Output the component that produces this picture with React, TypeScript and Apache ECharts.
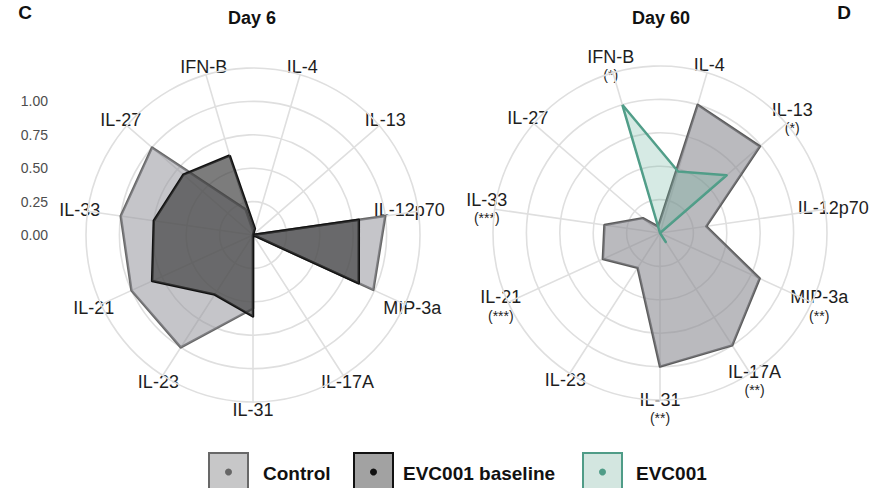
import React, { useEffect, useRef } from 'react';
import * as echarts from 'echarts';

// ---- data (clockwise from the top, as printed) ----
const categories = ['IFN-B', 'IL-4', 'IL-13', 'IL-12p70', 'MIP-3a', 'IL-17A', 'IL-31', 'IL-23', 'IL-21', 'IL-33', 'IL-27'];
const day60Stars = ['(*)', '', '(*)', '', '(**)', '(**)', '(**)', '', '(***)', '(***)', ''];
const radialTicks = [0, 0.25, 0.5, 0.75, 1.0];

const day6Control = [0.2, 0.02, 0.0, 1.0, 0.99, 0.0, 0.55, 1.0, 1.0, 1.0, 1.0];
const day6Baseline = [0.62, 0.05, 0.0, 0.8, 0.87, 0.0, 0.61, 0.53, 0.83, 0.75, 0.69];
const day60Control = [0.05, 1.0, 0.99, 0.35, 0.82, 1.0, 1.0, 0.31, 0.47, 0.42, 0.17];
const day60Evc = [1.0, 0.48, 0.66, 0.0, 0.0, 0.08, 0.0, 0.0, 0.0, 0.0, 0.0];

const seriesNames = ['Control', 'EVC001 baseline', 'EVC001'];
const titles = ['Day 6', 'Day 60'];
const panelLetters = ['C', 'D'];

// ---- layout / style ----
const W = 869;
const H = 488;
const FONT = 'Liberation Sans, Arial, Helvetica, sans-serif';
const AXIS_MAX = 1.25;
const R = 167;
const CENTERS: [number, number][] = [[253, 235], [660, 233]];
const LABEL_R = 175;
const N = categories.length;
const STEP = 360 / N;
const FIRST = -STEP / 2; // screen angle (clockwise from top) of the first category
const GRID_C = '#dfdfdf';
// small label nudges (left panel keeps IL-12p70 inside its own area)
const NUDGE_LEFT: [number, number][] = categories.map((c) => (c === 'IL-12p70' ? [-17, 0] : [0, 0]));
const NUDGE_RIGHT: [number, number][] = categories.map(() => [0, 0]);

// ECharts places indicators counter-clockwise starting at startAngle
const ccw = [0, ...Array.from({ length: N - 1 }, (_, i) => N - 1 - i)];
const ord = (arr: number[]) => ccw.map((i) => arr[i]);

const colors = {
  control: { line: '#686868', fill: 'rgba(150,150,156,0.55)', key: '#c7c7c8', dot: '#666666' },
  baseline: { line: '#111111', fill: 'rgba(62,62,62,0.68)', key: '#a2a2a2', dot: '#111111' },
  evc: { line: '#4f9c87', fill: 'rgba(95,175,152,0.26)', key: '#d3e6e0', dot: '#4f9c87' },
};

function radarCfg(center: [number, number]) {
  return {
    center,
    radius: R,
    startAngle: 90 - FIRST,
    splitNumber: 5,
    shape: 'circle',
    indicator: ccw.map((i) => ({ name: categories[i], min: 0, max: AXIS_MAX })),
    axisName: { show: false },
    splitLine: { lineStyle: { color: GRID_C, width: 1.6 } },
    splitArea: { show: false },
    axisLine: { lineStyle: { color: GRID_C, width: 1.6 } },
    axisTick: { show: false },
    axisLabel: { show: false },
  };
}

function labelGraphics(center: [number, number], stars: string[] | null, nudge: [number, number][]) {
  return categories.map((name, i) => {
    const th = ((FIRST + i * STEP) * Math.PI) / 180;
    const x = center[0] + LABEL_R * Math.sin(th) + nudge[i][0];
    const y = center[1] - LABEL_R * Math.cos(th) + nudge[i][1];
    const s = stars ? stars[i] : '';
    const text = s ? `{a|${name}}\n{b|${s}}` : `{a|${name}}`;
    return {
      type: 'text',
      x,
      y,
      silent: true,
      style: {
        text,
        align: 'center',
        verticalAlign: 'middle',
        fill: '#1e1e1e',
        fontFamily: FONT,
        rich: {
          a: { fontSize: 18, fontFamily: FONT, fill: '#1e1e1e', lineHeight: 20, align: 'center' },
          b: { fontSize: 14, fontFamily: FONT, fill: '#1e1e1e', lineHeight: 17, align: 'center' },
        },
      },
    };
  });
}

function legendGraphics() {
  const keys = [
    { x: 209, tx: 263, c: colors.control },
    { x: 354, tx: 403, c: colors.baseline },
    { x: 583, tx: 636, c: colors.evc },
  ];
  const out: any[] = [];
  keys.forEach((k, i) => {
    out.push({
      type: 'rect',
      shape: { x: k.x, y: 453, width: 39, height: 38 },
      style: { fill: k.c.key, stroke: k.c.line, lineWidth: 2 },
      silent: true,
    });
    out.push({
      type: 'circle',
      shape: { cx: k.x + 19.5, cy: 472, r: 3.5 },
      style: { fill: k.c.dot },
      silent: true,
    });
    out.push({
      type: 'text',
      x: k.tx,
      y: 473,
      silent: true,
      style: {
        text: seriesNames[i],
        fontSize: 19,
        fontWeight: 'bold',
        fontFamily: FONT,
        fill: '#111',
        align: 'left',
        verticalAlign: 'middle',
      },
    });
  });
  return out;
}

export default function App() {
  const ref = useRef<HTMLDivElement>(null);
  useEffect(() => {
    if (!ref.current) return;
    const chart = echarts.init(ref.current, null, { renderer: 'svg' });
    const gridTop = CENTERS[0][1] - (1.0 / AXIS_MAX) * R;
    const option: any = {
      animation: false,
      backgroundColor: '#ffffff',
      grid: { left: 51, top: gridTop, width: 1, height: (1.0 / AXIS_MAX) * R },
      xAxis: { type: 'value', show: false },
      yAxis: {
        type: 'value',
        min: 0,
        max: 1,
        interval: 0.25,
        axisLine: { show: false },
        axisTick: { show: false },
        splitLine: { show: false },
        axisLabel: {
          margin: 3,
          color: '#4d4d4d',
          fontSize: 14,
          fontFamily: FONT,
          formatter: (v: number) => (radialTicks.includes(v) ? v.toFixed(2) : ''),
        },
      },
      radar: [radarCfg(CENTERS[0]), radarCfg(CENTERS[1])],
      series: [
        {
          type: 'radar',
          radarIndex: 0,
          symbol: 'none',
          data: [
            {
              name: seriesNames[0],
              value: ord(day6Control),
              lineStyle: { color: colors.control.line, width: 2.5 },
              itemStyle: { color: colors.control.line },
              areaStyle: { color: colors.control.fill, opacity: 1 },
            },
            {
              name: seriesNames[1],
              value: ord(day6Baseline),
              lineStyle: { color: colors.baseline.line, width: 2.5 },
              itemStyle: { color: colors.baseline.line },
              areaStyle: { color: colors.baseline.fill, opacity: 1 },
            },
          ],
        },
        {
          type: 'radar',
          radarIndex: 1,
          symbol: 'none',
          data: [
            {
              name: seriesNames[0],
              value: ord(day60Control),
              lineStyle: { color: '#5c5c5c', width: 2.5 },
              itemStyle: { color: '#5c5c5c' },
              areaStyle: { color: 'rgba(140,140,146,0.6)', opacity: 1 },
            },
            {
              name: seriesNames[2],
              value: ord(day60Evc),
              lineStyle: { color: colors.evc.line, width: 2.5 },
              itemStyle: { color: colors.evc.line },
              areaStyle: { color: colors.evc.fill, opacity: 1 },
            },
          ],
        },
      ],
      graphic: [
        ...labelGraphics(CENTERS[0], null, NUDGE_LEFT),
        ...labelGraphics(CENTERS[1], day60Stars, NUDGE_RIGHT),
        ...titles.map((t, i) => ({
          type: 'text',
          x: i === 0 ? 252 : 661,
          y: 18,
          silent: true,
          style: { text: t, fontSize: 18, fontWeight: 'bold', fontFamily: FONT, fill: '#111', align: 'center', verticalAlign: 'middle' },
        })),
        {
          type: 'text', x: 25, y: 12, silent: true,
          style: { text: panelLetters[0], fontSize: 19, fontWeight: 'bold', fontFamily: FONT, fill: '#111', align: 'center', verticalAlign: 'middle' },
        },
        {
          type: 'text', x: 844, y: 12, silent: true,
          style: { text: panelLetters[1], fontSize: 19, fontWeight: 'bold', fontFamily: FONT, fill: '#111', align: 'center', verticalAlign: 'middle' },
        },
        ...legendGraphics(),
      ],
    };
    chart.setOption(option);
    return () => chart.dispose();
  }, []);
  return <div ref={ref} style={{ position: 'fixed', left: 0, top: 0, width: W, height: H }} />;
}
